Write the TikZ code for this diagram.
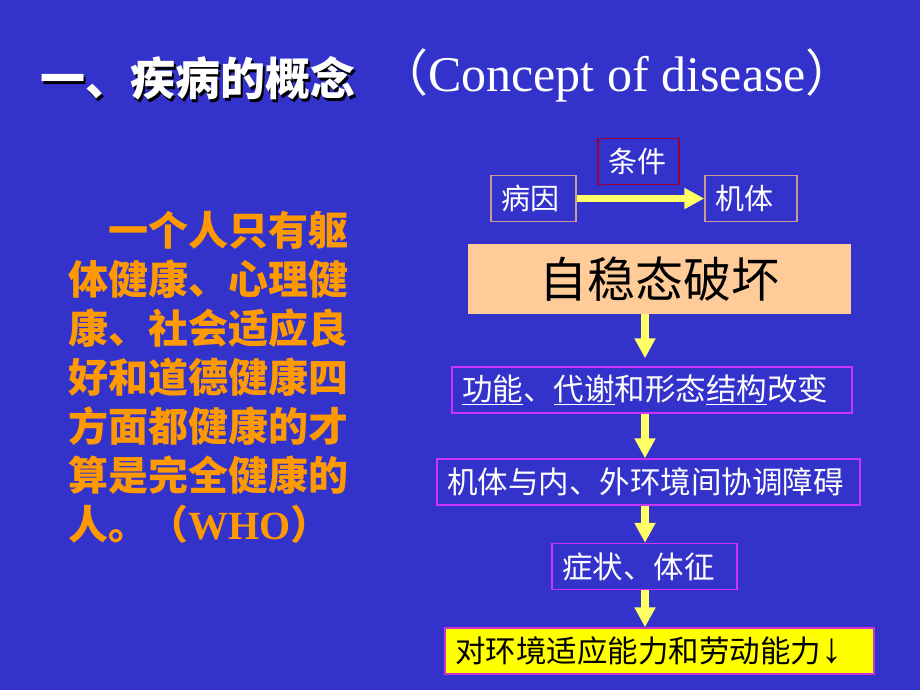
\documentclass[tikz,border=0pt]{standalone}
\usepackage{fontspec}
\setmainfont{Liberation Serif}
\newfontfamily\cjk{Noto Sans CJK SC}
\usetikzlibrary{arrows.meta}
\definecolor{bgblue}{RGB}{51,51,204}
\definecolor{orangec}{RGB}{255,153,0}
\definecolor{yarrowc}{RGB}{255,255,102}
\definecolor{peach}{RGB}{255,204,153}
\definecolor{yboxc}{RGB}{255,255,0}
\definecolor{violetc}{RGB}{204,51,255}
\definecolor{magentac}{RGB}{204,51,204}
\definecolor{crimsonc}{RGB}{153,0,51}
\definecolor{pinkc}{RGB}{204,153,153}
\newcommand\myul[1]{\setbox0\hbox{#1}\rlap{\rule[-4pt]{\wd0}{1.2pt}}\box0}
\tikzset{
  para/.style={font=\cjk\bfseries\fontsize{40}{48}\selectfont, text=orangec, anchor=base west, inner sep=0pt},
  boxbase/.style={line width=1.5pt, inner xsep=10pt, inner ysep=0pt, align=left},
  smallbox/.style={boxbase, text=white, font=\cjk\fontsize{29}{34}\selectfont, minimum height=46pt},
  flowbox/.style={boxbase, draw=violetc, text=white, font=\cjk\fontsize{30.5}{36}\selectfont, minimum height=46pt},
  yarrow/.style={draw=yarrowc, line width=7.5pt, -{Triangle[length=20pt,width=20pt]}, yarrowc}
}
\begin{document}
\begin{tikzpicture}[x=1pt,y=-1pt]
\useasboundingbox (0,0) rectangle (920,690);
\fill[bgblue] (0,0) rectangle (920,690);
% title with drop shadow
\node[font=\cjk\bfseries\fontsize{45}{54}\selectfont, text=black, anchor=base west, inner sep=0pt] (tshadow) at (42.5,98.5) {一、疾病的概念};
\node[font=\cjk\bfseries\fontsize{45}{54}\selectfont, text=white, anchor=base west, inner sep=0pt] (title) at (40,96) {一、疾病的概念};
\node[font=\fontsize{50}{60}\selectfont, text=white, anchor=base west, inner sep=0pt] (concept) at (378,92) {{\cjk （}Concept of disease{\cjk ）}};
% left paragraph
\node[para] (p1) at (68,245) {　一个人只有躯};
\node[para] (p2) at (68,294) {体健康、心理健};
\node[para] (p3) at (68,343) {康、社会适应良};
\node[para] (p4) at (68,392) {好和道德健康四};
\node[para] (p5) at (68,441) {方面都健康的才};
\node[para] (p6) at (68,490) {算是完全健康的};
\node[para] (p7) at (68,539) {人。（{\normalfont\bfseries WHO}）};
% right flow
\node[smallbox, draw=crimsonc, text width=61pt] (tj) at (638.5,161.5) {条件};
\node[smallbox, draw=pinkc, text width=65pt] (by) at (533.5,198.5) {病因};
\node[smallbox, draw=pinkc, text width=72pt] (jt) at (751,198.5) {机体};
\node[fill=peach, text=black, font=\cjk\fontsize{48}{56}\selectfont, minimum width=383pt, minimum height=70pt, inner sep=0pt] (zw) at (659.5,279) {自稳态破坏};
\node[flowbox, text width=380pt] (gn) at (652,390) {\myul{功能}、\myul{代谢}和形态\myul{结构}改变};
\node[flowbox, text width=403pt] (xt) at (648.5,482) {机体与内、外环境间协调障碍};
\node[flowbox, text width=165pt] (zz) at (644.5,566.5) {症状、体征};
\node[boxbase, draw=magentac, fill=yboxc, text=black, font=\cjk\fontsize{30.5}{36}\selectfont, minimum height=46pt, text width=409pt] (dh) at (659.5,651) {对环境适应能力和劳动能力{\normalfont\fontsize{42}{44}\selectfont ↓}};
\coordinate (ax) at (645,0);
\draw[yarrow, line width=6.5pt] (by.east) -- (jt.west);
\draw[yarrow, shorten >=8pt] (zw.south -| ax) -- (gn.north -| ax);
\draw[yarrow] (gn.south -| ax) -- (xt.north -| ax);
\draw[yarrow] (xt.south -| ax) -- (zz.north -| ax);
\draw[yarrow] (zz.south -| ax) -- (dh.north -| ax);
\end{tikzpicture}
\end{document}
